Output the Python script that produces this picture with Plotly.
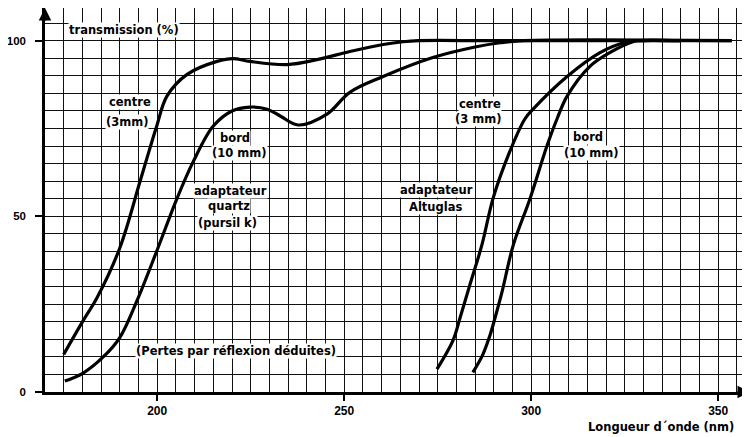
import plotly.graph_objects as go

# --- data (wavelength in nm, transmission in %) ---
quartz_centre_nm = [175, 180.2, 183.9, 190, 195.4, 198, 199.9, 202.6, 208, 216, 220.3, 224.8, 234.7, 242.7, 251.5, 260.4, 265.7, 270, 290, 353.6]
quartz_centre_t = [10.7, 20.3, 26.8, 41, 59.9, 69.2, 75.8, 84.2, 90.4, 94.1, 94.9, 94.1, 93.2, 94.6, 96.9, 98.9, 99.7, 100, 100, 100]

quartz_bord_nm = [175.3, 180.2, 185.5, 190, 194.6, 200.2, 205.3, 209.6, 215, 220, 224.8, 229.4, 233, 237.7, 245.4, 251.5, 260.4, 273.7, 285, 291.7, 298, 353.6]
quartz_bord_t = [3.1, 5.4, 9.9, 15.5, 26, 41, 55.1, 65.5, 75.7, 80, 81.1, 80.5, 78.5, 76, 79.1, 85.3, 89.8, 95.2, 98.2, 99.4, 100, 100]

altu_centre_nm = [274.8, 279.1, 281, 283.6, 286.8, 289.8, 293.8, 298.3, 300.5, 309.6, 318.4, 325.6, 328, 340]
altu_centre_t = [6.5, 14.7, 21.2, 30.5, 41.8, 55.1, 67.2, 77.7, 80.5, 89.8, 96.6, 99.7, 100, 100]

altu_bord_nm = [284.4, 287, 289, 290.3, 292.2, 295.2, 299.7, 304.2, 306.9, 309.6, 315.7, 321, 327.2, 329, 340]
altu_bord_t = [5.6, 10.5, 16.2, 21, 28.5, 41.8, 55.1, 70, 77.7, 84.2, 92.7, 96.6, 99.7, 100, 100]

x_ticks = [200, 250, 300, 350]
y_ticks = [0, 50, 100]

TICKFONT = "Liberation Sans"
TXTFONT = "DejaVu Sans"
fig = go.Figure()
for xs, ys in [(quartz_centre_nm, quartz_centre_t), (quartz_bord_nm, quartz_bord_t),
               (altu_centre_nm, altu_centre_t), (altu_bord_nm, altu_bord_t)]:
    fig.add_trace(go.Scatter(x=xs, y=ys, mode="lines",
                             line=dict(color="black", width=3.2, shape="spline", smoothing=1.0),
                             showlegend=False, hoverinfo="skip"))

grid = dict(showgrid=True, gridcolor="#111111", gridwidth=1)
fig.update_xaxes(range=[170, 358.5], tickmode="array", tickvals=x_ticks,
                 ticktext=[str(v) for v in x_ticks], ticks="outside", ticklen=6,
                 tickwidth=1.5, tickcolor="black", showline=True, linewidth=2.5,
                 linecolor="black", zeroline=False, automargin=False,
                 minor=dict(tick0=170, dtick=5, ticks="", **grid), **grid,
                 tickfont=dict(family=TICKFONT, size=12, color="black", weight="bold"))
fig.update_yaxes(range=[0, 109.3], tickmode="array", tickvals=y_ticks,
                 ticktext=[str(v) for v in y_ticks], ticks="outside", ticklen=7,
                 tickwidth=1.5, tickcolor="black", showline=True, linewidth=2.5,
                 linecolor="black", zeroline=False, ticklabelstandoff=7, automargin=False,
                 minor=dict(tick0=0, dtick=5, ticks="", **grid), **grid,
                 tickfont=dict(family=TICKFONT, size=11.5, color="black", weight="bold"))

def txt(x, y, s, anchor="center", xref="x", yref="y"):
    fig.add_annotation(x=x, y=y, xref=xref, yref=yref, text=s, showarrow=False,
                       xanchor=anchor, yanchor="middle", bgcolor="white", borderpad=0,
                       font=dict(family=TXTFONT, size=11.5, color="black", weight="bold"))

txt(176.1, 103, "transmission (%)", anchor="left")
txt(192.7, 82.5, "centre")
txt(191.9, 76.8, "(3mm)")
txt(220.8, 72.3, "bord")
txt(222.1, 68, "(10 mm)")
txt(219.5, 57.2, "adaptateur")
txt(219.2, 52.9, "quartz")
txt(218.7, 48.1, "(pursil k)")
txt(221.1, 11.7, "(Pertes par réflexion déduites)")
txt(286.3, 82, "centre")
txt(285.8, 77.8, "(3 mm)")
txt(274.8, 57.5, "adaptateur")
txt(274.3, 52.6, "Altuglas")
txt(315.2, 72.6, "bord")
txt(316.0, 68, "(10 mm)")

fig.add_annotation(x=0.98, y=-0.09, xref="paper", yref="paper", text="Longueur d´onde (nm)",
                   showarrow=False, xanchor="right", yanchor="middle",
                   font=dict(family=TXTFONT, size=11.5, color="black", weight="bold"))

# axis arrows
fig.add_annotation(x=170, y=109.3, xref="x", yref="y", ax=0, ay=14, text="", showarrow=True,
                   arrowhead=2, arrowsize=1, arrowwidth=2.5, arrowcolor="black")
fig.add_annotation(x=358.5, y=0, xref="x", yref="y", ax=-14, ay=0, text="", showarrow=True,
                   arrowhead=2, arrowsize=1, arrowwidth=2.5, arrowcolor="black")

# page body adds an 8px margin, so the figure is 8px smaller on each leading side
fig.update_layout(width=742, height=429, margin=dict(l=37, r=0, t=0, b=45),
                  plot_bgcolor="white", paper_bgcolor="white")
fig.write_html("out.html")
